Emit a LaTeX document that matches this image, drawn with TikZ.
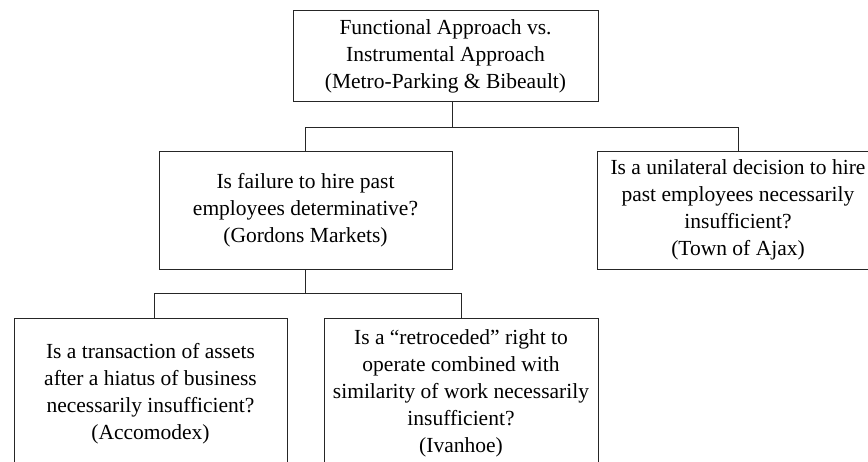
\documentclass[tikz,border=0pt]{standalone}
\usepackage{fontspec}
\setmainfont{Liberation Serif}
\begin{document}
\begin{tikzpicture}[x=1pt,y=-1pt,
  box/.style={draw=black!85,line width=0.9pt,inner sep=0pt,align=center,
    font=\fontsize{21.5}{27}\selectfont},
  conn/.style={draw=black!85,line width=0.9pt}]
\useasboundingbox (0,0) rectangle (868,462);
\clip (0,0) rectangle (868,462);
\node[box,minimum width=305pt,minimum height=91pt] (top) at (445.5,56)
  {Functional Approach vs.\\Instrumental Approach\\(Metro-Parking \& Bibeault)};
\node[box,minimum width=293pt,minimum height=118pt] (mid) at (305.5,210)
  {Is failure to hire past\\employees determinative?\\(Gordons Markets)};
\node[box,minimum width=282pt,minimum height=118pt] (right) at (738,210)
  {Is a unilateral decision to hire\\past employees necessarily\\insufficient?\\(Town of Ajax)};
\node[box,minimum width=273pt,minimum height=151pt] (acc) at (150.5,393.5)
  {Is a transaction of assets\\after a hiatus of business\\necessarily insufficient?\\(Accomodex)};
\node[box,minimum width=274pt,minimum height=151pt] (iva) at (461,393.5)
  {Is a “retroceded” right to\\operate combined with\\similarity of work necessarily\\insufficient?\\(Ivanhoe)};
\coordinate (bus1) at (452,127);
\coordinate (bus2) at (305.5,293);
\draw[conn] (top.south -| bus1) -- (bus1);
\draw[conn] (mid.north) -- (mid.north |- bus1) -- (right.north |- bus1) -- (right.north);
\draw[conn] (mid.south) -- (bus2);
\coordinate (accj) at (154,293);
\draw[conn] (accj |- acc.north) -- (accj) -- (iva.north |- bus2) -- (iva.north);
\end{tikzpicture}
\end{document}
